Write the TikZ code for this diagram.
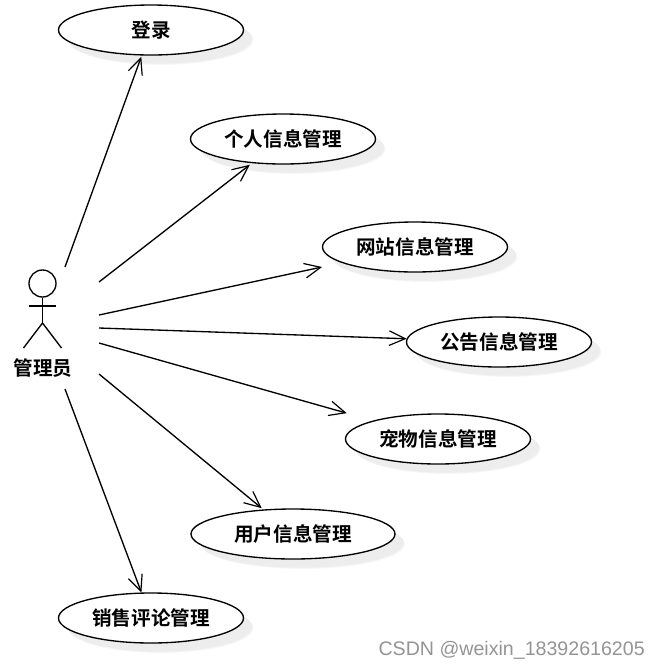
\documentclass[tikz,border=0pt]{standalone}
\usepackage{fontspec}
\newfontfamily\cjk{Noto Sans CJK SC}[BoldFont={Noto Sans CJK SC Bold}]
\setmainfont{Liberation Sans}
\usetikzlibrary{arrows.meta,shapes.geometric}
\tikzset{
  x=0.75pt,y=-0.75pt,
  shadowlayer/.style={preaction={draw=none,fill=black,fill opacity=.024,transform canvas={shift={(#1,-#1)}}}},
  softshadow/.style={shadowlayer=7.5pt,shadowlayer=7pt,shadowlayer=6.5pt},
  usecase/.style={ellipse,draw=black,line width=1pt,fill=white,inner sep=0pt,outer sep=0.5pt,
    minimum width=138.75pt,minimum height=37.5pt,font=\cjk\bfseries\fontsize{14.7}{17}\selectfont,
    softshadow},
  assoc/.style={line width=1pt,-{Straight Barb[length=12pt,width=11pt,line width=0.9pt]}},
  stick/.style={line width=1pt},
  wm/.style={text=black!42,font=\fontsize{14.7}{17}\selectfont,inner sep=0pt,anchor=east}
}
\begin{document}
\begin{tikzpicture}
\useasboundingbox (0,0) rectangle (660,669);
\node[usecase] (u1) at (151,30) {登录};
\node[usecase] (u2) at (283,139) {个人信息管理};
\node[usecase] (u3) at (415,247) {网站信息管理};
\node[usecase] (u4) at (499,342) {公告信息管理};
\node[usecase] (u5) at (438,439) {宠物信息管理};
\node[usecase,minimum width=153pt] (u6) at (293,534) {用户信息管理};
\node[usecase] (u7) at (151,618) {销售评论管理};
% actor
\node[circle,draw=black,stick,minimum size=20.25pt,inner sep=0pt] (head) at (42.5,283.5) {};
\coordinate (hip) at (42.5,323);
\coordinate (armL) at (29,306);
\coordinate (armR) at (56,306);
\coordinate (legL) at (23.5,348);
\coordinate (legR) at (61.5,348);
\draw[stick] (head.south) -- (hip);
\draw[stick] (armL) -- (armR);
\draw[stick] (legL) -- (hip) -- (legR);
\node[font=\cjk\bfseries\fontsize{14.7}{17}\selectfont,inner sep=0pt] (actor) at (43,368) {管理员};
% connector starts
\coordinate (s1) at (65,267);
\coordinate (s2) at (99,282);
\coordinate (s3) at (99,315);
\coordinate (s4) at (99,328);
\coordinate (s5) at (99,343);
\coordinate (s6) at (99,374);
\coordinate (s7) at (65,389);
\draw[assoc,shorten >=1pt] (s1) -- (u1);
\draw[assoc,shorten >=2pt] (s2) -- (u2);
\draw[assoc,shorten >=15pt] (s3) -- (u3);
\draw[assoc] (s4) -- (u4);
\draw[assoc,shorten >=20.5pt] (s5) -- (u5);
\draw[assoc,shorten >=1.5pt] (s6) -- (u6);
\draw[assoc] (s7) -- (u7);
\node[wm] (mark) at (645,650) {CSDN @weixin\_18392616205};
\end{tikzpicture}
\end{document}
